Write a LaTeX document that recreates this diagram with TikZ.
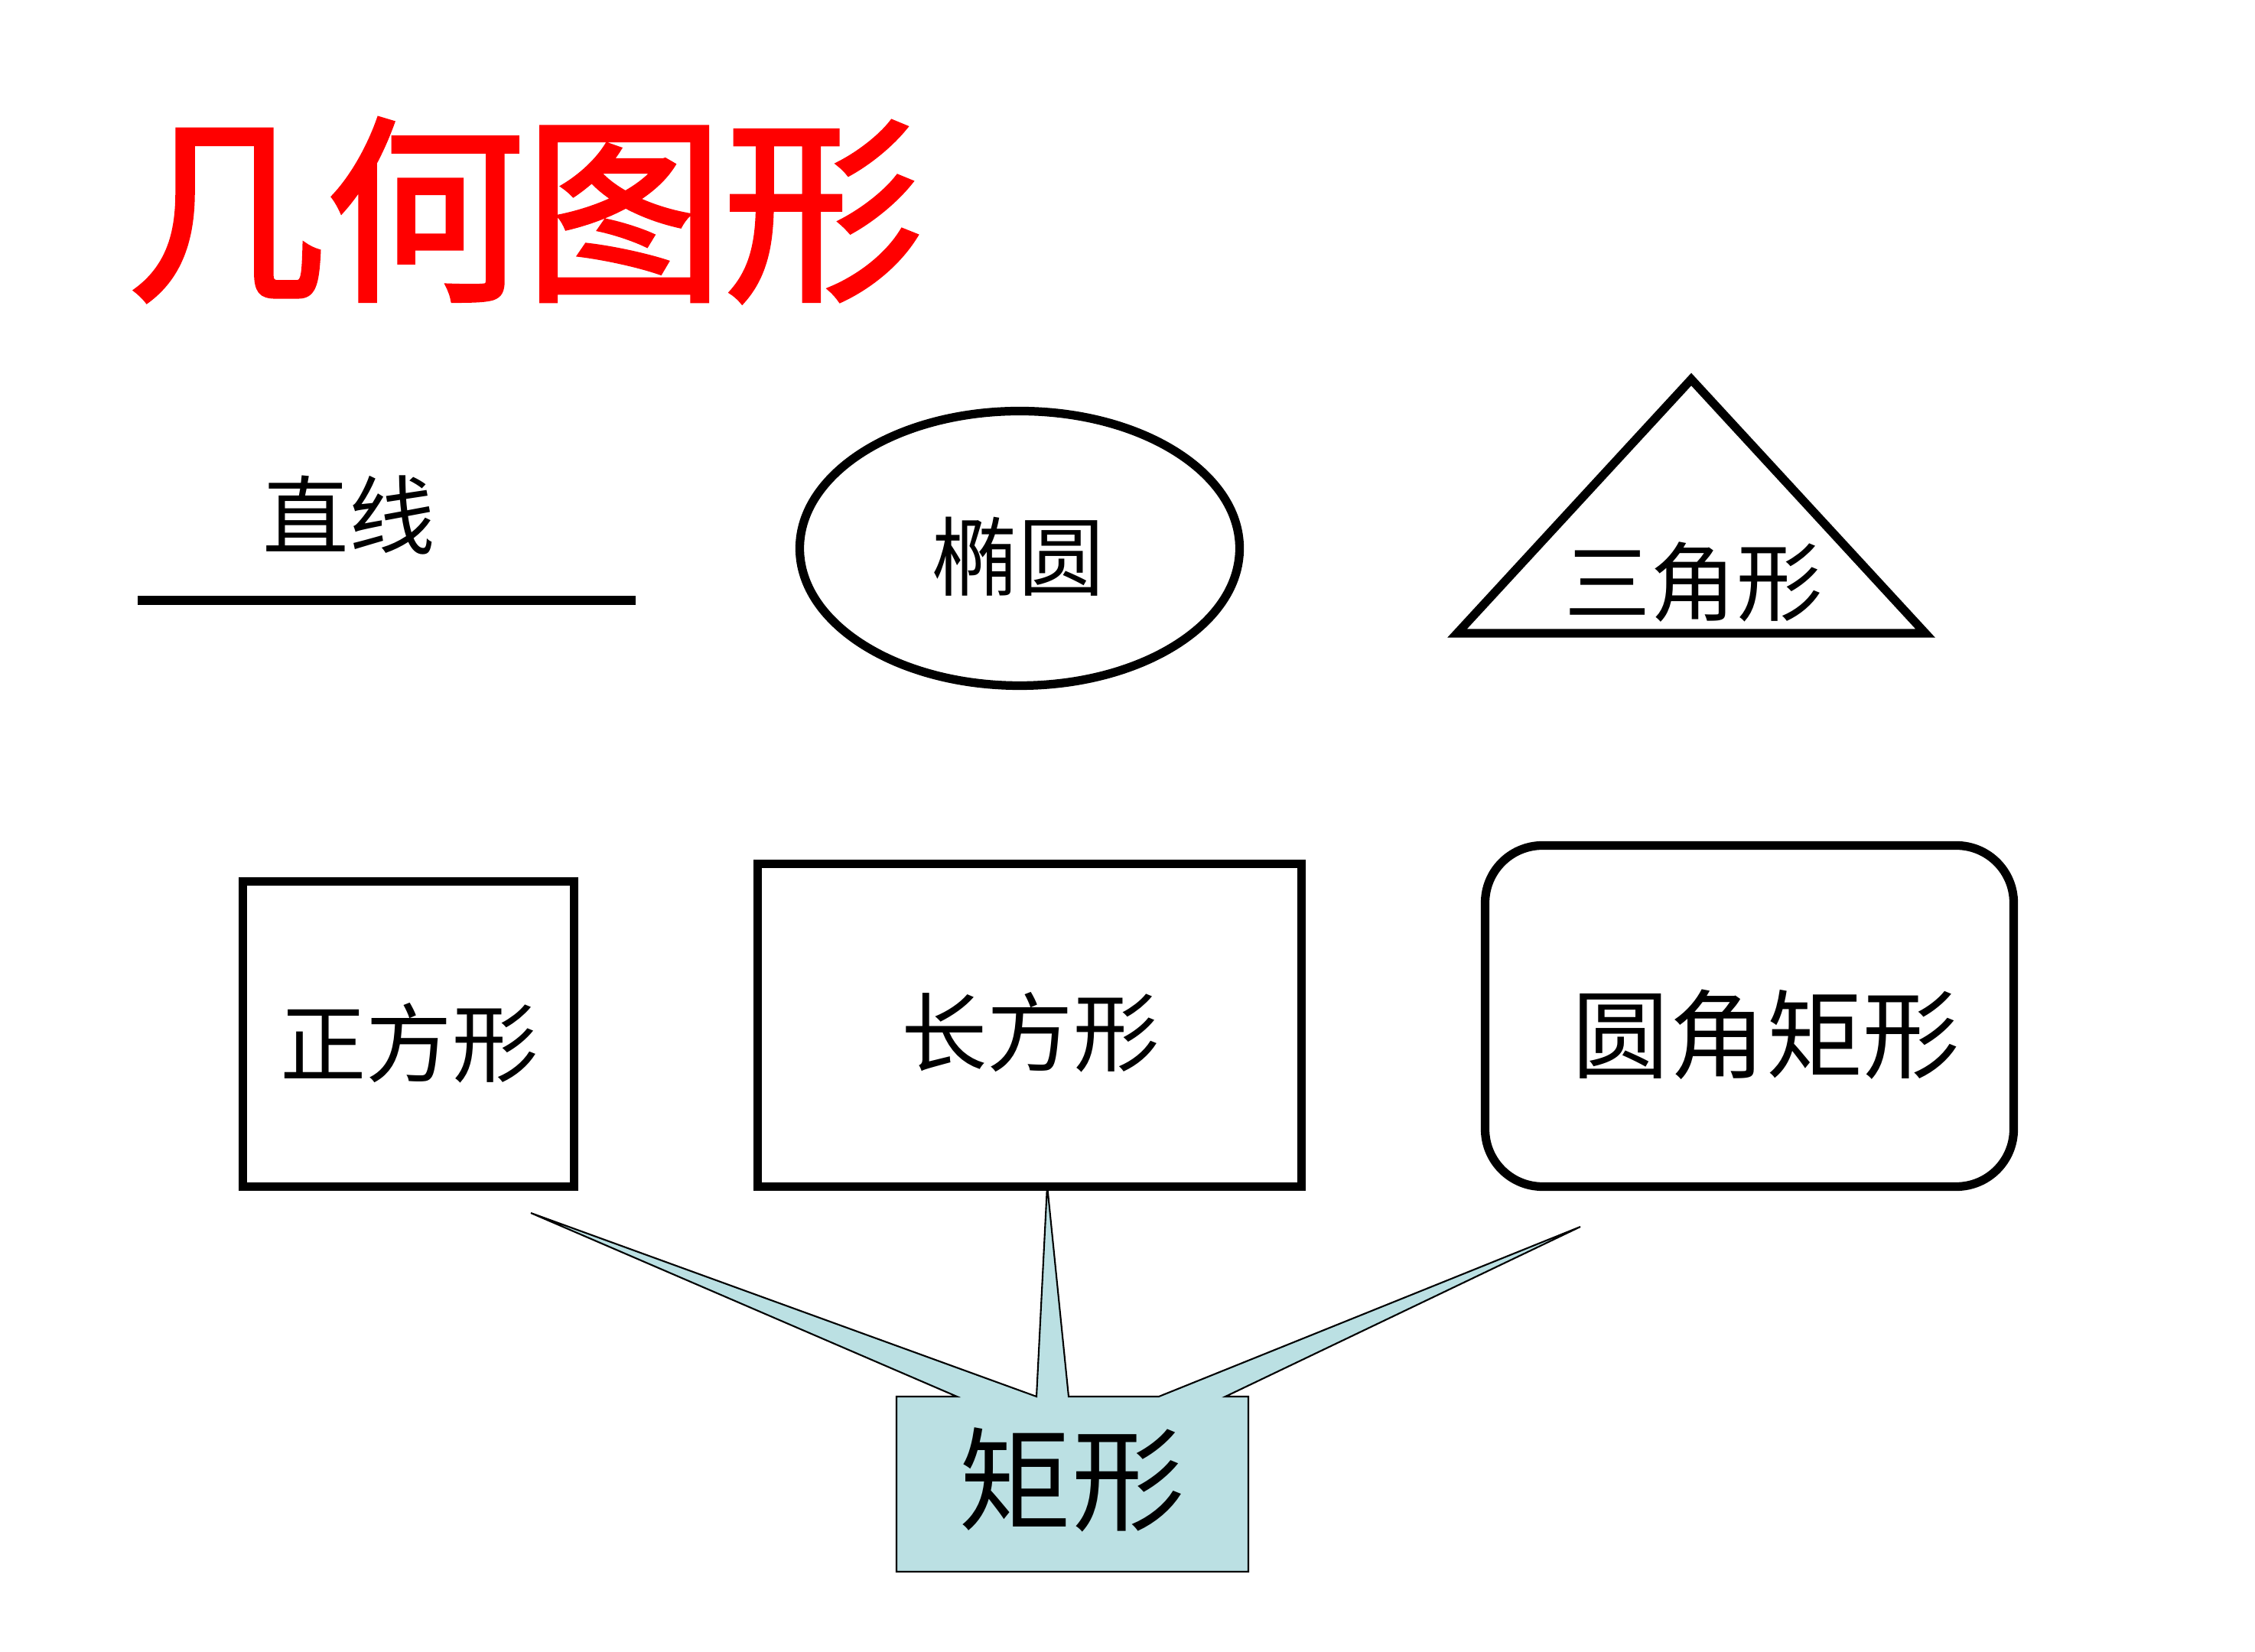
\documentclass[tikz,border=0pt]{standalone}
\usepackage{fontspec}
\usepackage{xcolor}
\usetikzlibrary{shapes.geometric,positioning}
\newfontfamily\cjk{Noto Sans CJK SC}
\newfontfamily\cjktitle[FakeBold=2]{Noto Sans CJK SC}
\definecolor{titlered}{RGB}{255,0,0}
\definecolor{calloutfill}{RGB}{187,224,227}
\tikzset{
  shapeline/.style={draw=black, line width=3.2pt},
  shapelabel/.style={font=\cjk\fontsize{32}{38}\selectfont, inner sep=0pt},
}

\begin{document}
\begin{tikzpicture}
  \useasboundingbox (0,0) rectangle (29.48,21.6);
  % title
  \node[text=titlered, font=\cjktitle\fontsize{74}{80}\selectfont, inner sep=0pt] (title) at (6.86,18.85) {几何图形};
  % line
  \coordinate (lineA) at (1.80,13.75);
  \coordinate (lineB) at (8.31,13.75);
  \draw[line width=3.4pt] (lineA) -- (lineB);
  \node[shapelabel] (zhixian) at (4.56,14.86) {直线};
  % ellipse
  \node[ellipse, shapeline, minimum width=5.75cm, minimum height=3.59cm] (tuoyuan) at (13.33,14.43) {};
  \node[shapelabel] (tuoyuanText) at (13.31,14.32) {椭圆};
  % triangle
  \coordinate (triTop) at (22.11,16.64);
  \coordinate (triLeft) at (19.05,13.32);
  \coordinate (triRight) at (25.17,13.32);
  \draw[shapeline, line join=miter] (triLeft) -- (triTop) -- (triRight) -- cycle;
  \node[shapelabel] (sanjiao) at (22.14,13.99) {三角形};
  % boxes
  \node[shapeline, minimum width=4.33cm, minimum height=3.99cm] (zhengfang) at (5.34,8.08) {};
  \node[shapelabel] (zhengfangText) at (5.35,7.96) {正方形};
  \node[shapeline, minimum width=7.11cm, minimum height=4.22cm] (changfang) at (13.46,8.195) {};
  \node[shapelabel] (changfangText) at (13.47,8.10) {长方形};
  \node[shapeline, rounded corners=0.75cm, minimum width=6.91cm, minimum height=4.46cm] (yuanjiao) at (22.87,8.315) {};
  \node[shapelabel, font=\cjk\fontsize{36}{42}\selectfont] (yuanjiaoText) at (23.09,8.07) {圆角矩形};
  % callout
  \coordinate (tipL) at (6.94,5.74);
  \coordinate (tipM) at (13.69,6.10);
  \coordinate (tipR) at (20.66,5.56);
  \filldraw[fill=calloutfill, draw=black, line width=0.6pt]
    (11.72,3.34) -- (12.51,3.34) -- (tipL) -- (13.55,3.34) -- (tipM) -- (13.97,3.34)
    -- (15.15,3.34) -- (tipR) -- (16.02,3.34) -- (16.32,3.34)
    -- (16.32,1.05) -- (11.72,1.05) -- cycle;
  \node[inner sep=0pt, font=\cjk\fontsize{42}{48}\selectfont] (juxing) at (14.01,2.25) {矩形};
\end{tikzpicture}
\end{document}
